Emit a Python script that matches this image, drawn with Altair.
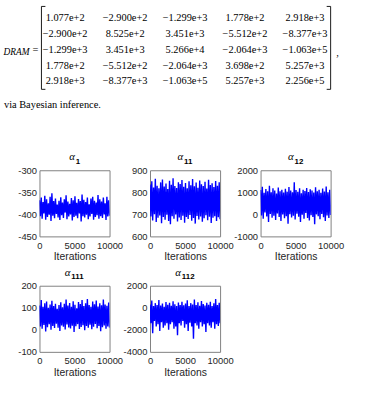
import altair as alt
import pandas as pd
import numpy as np

# ---------------- data ----------------
matrix_rows = [
    ["1.077e+2", "−2.900e+2", "−1.299e+3", "1.778e+2", "2.918e+3"],
    ["−2.900e+2", "8.525e+2", "3.451e+3", "−5.512e+2", "−8.377e+3"],
    ["−1.299e+3", "3.451e+3", "5.266e+4", "−2.064e+3", "−1.063e+5"],
    ["1.778e+2", "−5.512e+2", "−2.064e+3", "3.698e+2", "5.257e+3"],
    ["2.918e+3", "−8.377e+3", "−1.063e+5", "5.257e+3", "2.256e+5"],
]
matrix_label = "DRAM"
caption = "via Bayesian inference."

x_ticks = [0, 5000, 10000]
x_domain = [0, 10000]

# alpha_1
a1_sub = "1"
a1_domain = [-450, -300]
a1_ticks = [-450, -400, -350, -300]
a1_upper = [-368, -362, -372, -358, -366, -375, -360, -352, -370, -364, -378, -369, -361, -373, -366, -357, -371, -376, -363, -368,
            -359, -374, -365, -370, -355, -367, -372, -362, -377, -364, -360, -369, -373, -356, -366, -371, -362, -375, -360, -368]
a1_lower = [-404, -410, -398, -412, -406, -401, -415, -403, -409, -399, -407, -413, -402, -408, -396, -411, -405, -400, -414, -406,
            -403, -409, -398, -416, -404, -407, -401, -411, -405, -399, -412, -406, -402, -410, -404, -408, -400, -413, -405, -403]

# alpha_11
a11_sub = "11"
a11_domain = [600, 900]
a11_ticks = [600, 700, 800, 900]
a11_upper = [835, 850, 822, 862, 830, 818, 845, 858, 826, 840, 815, 852, 834, 864, 828, 820, 846, 838, 856, 825,
             842, 818, 850, 832, 860, 827, 844, 821, 853, 836, 829, 848, 817, 857, 833, 841, 824, 851, 830, 845]
a11_lower = [690, 672, 700, 665, 685, 695, 660, 688, 676, 698, 670, 655, 692, 680, 699, 668, 686, 674, 694, 662,
             688, 679, 697, 671, 684, 658, 693, 677, 690, 666, 682, 696, 673, 689, 661, 685, 692, 670, 687, 678]

# alpha_12
a12_sub = "12"
a12_domain = [-1000, 2000]
a12_ticks = [-1000, 0, 1000, 2000]
a12_upper = [1100, 1250, 980, 1150, 1050, 1300, 1000, 1180, 1080, 950, 1220, 1050, 1120, 990, 1160, 1030, 1240, 1080, 1000, 1450,
             1100, 1020, 1180, 960, 1120, 1060, 1200, 1010, 1140, 1080, 990, 1230, 1050, 1110, 980, 1170, 1040, 1260, 1000, 1120]
a12_lower = [-50, -200, 80, -100, -350, 20, -150, -60, -250, 40, -120, -300, 0, -180, -80, -420, 10, -140, -60, -230,
             30, -110, -350, -20, -200, 60, -160, -280, -40, -120, -450, 0, -90, -220, 20, -130, -300, -50, -170, -30]

# alpha_111
a111_sub = "111"
a111_domain = [-100, 200]
a111_ticks = [-100, 0, 100, 200]
a111_upper = [110, 135, 105, 120, 128, 100, 115, 132, 108, 118, 95, 112, 125, 102, 118, 138, 110, 122, 105, 130,
              114, 98, 126, 117, 135, 108, 120, 140, 112, 104, 128, 116, 133, 106, 121, 111, 137, 115, 109, 124]
a111_lower = [15, 5, 22, -8, 12, 25, 0, 18, 8, 28, 10, -5, 20, 14, 2, 24, 11, 6, 19, -10,
              16, 26, 4, 13, 21, -2, 17, 9, 23, 3, 14, 27, 7, 18, -6, 12, 20, 5, 15, 10]

# alpha_112
a112_sub = "112"
a112_domain = [-4000, 2000]
a112_ticks = [-4000, -2000, 0, 2000]
a112_upper = [300, 650, 150, 420, 250, 700, 200, 380, 100, 520, 280, 450, 180, 600, 320, 150, 480, 260, 550, 220,
              380, 680, 160, 420, 300, 760, 240, 500, 180, 620, 350, 200, 460, 280, 540, 150, 400, 800, 260, 450]
a112_lower = [-1400, -2300, -1200, -1700, -1500, -2100, -1300, -1800, -1600, -1400, -2000, -1500, -1300, -1900, -1700, -2500, -1400, -1600, -1200, -1800,
              -1500, -2100, -1350, -1700, -2800, -1400, -1600, -1900, -1300, -1700, -1500, -2200, -1400, -1600, -1800, -1300, -1900, -1500, -1650, -1400]

# ---------------- styling ----------------
SERIF = "Liberation Serif"
SANS = "Liberation Sans"
PW, PH = 71, 67
dummy = pd.DataFrame({"a": [0]})


def rule(x1, x2, y1, y2):
    return alt.Chart(dummy).mark_rule(color="black", strokeWidth=0.9).encode(
        x=alt.value(x1), x2=alt.value(x2), y=alt.value(y1), y2=alt.value(y2))


def label(txt, x, y, **kw):
    return alt.Chart(dummy).mark_text(text=txt, **kw).encode(x=alt.value(x), y=alt.value(y))


cells = pd.DataFrame([{"row": r, "col": c, "txt": matrix_rows[r][c]}
                      for r in range(len(matrix_rows)) for c in range(len(matrix_rows[r]))])

cell_text = alt.Chart(cells).mark_text(font=SERIF, fontSize=10.5, color="black",
                                       align="center", baseline="middle").encode(
    x=alt.X("col:Q", scale=alt.Scale(domain=[0, 4], range=[62, 305]), axis=None),
    y=alt.Y("row:Q", scale=alt.Scale(domain=[0, 4], range=[15, 79]), axis=None),
    text="txt:N")

header = alt.layer(
    cell_text,
    rule(38, 38, 3, 87), rule(38, 42, 3, 3), rule(38, 42, 87, 87),
    rule(331, 331, 3, 87), rule(327, 331, 3, 3), rule(327, 331, 87, 87),
    label(matrix_label, 26, 49, font=SERIF, fontSize=9.5, fontStyle="italic", align="right", baseline="middle", color="black"),
    label("=", 32, 47, font=SERIF, fontSize=10.5, align="center", baseline="middle", color="black"),
    label(",", 338, 50, font=SERIF, fontSize=10.5, align="center", baseline="middle", color="black"),
    label(caption, 0, 103, font=SERIF, fontSize=10.5, align="left", baseline="middle", color="black"),
).properties(width=378, height=120)


def panel(sub, dom, ticks, upper, lower):
    n = len(upper)
    its = np.linspace(x_domain[0], x_domain[1], 2 * n)
    vals = [v for pair in zip(upper, lower) for v in pair]
    df = pd.DataFrame({"it": its, "v": vals})
    line = alt.Chart(df).mark_line(color="#0000ff", strokeWidth=1.4, clip=True).encode(
        x=alt.X("it:Q", scale=alt.Scale(domain=x_domain, nice=False, zero=False),
                axis=alt.Axis(values=x_ticks, title="Iterations", labelExpr="toString(datum.value)")),
        y=alt.Y("v:Q", scale=alt.Scale(domain=dom, nice=False, zero=False),
                axis=alt.Axis(values=ticks, title=None, labelExpr="toString(datum.value)")),
        order="it:Q")
    a_w = 6.3
    s_w = 4.45 * len(sub)
    start = PW / 2 - (a_w + s_w) / 2
    alpha = label("α", start, -13, font=SERIF, fontSize=11, fontStyle="italic", align="left",
                  baseline="middle", color="black")
    subt = label(sub, start + a_w + 0.3, -8.5, font=SANS, fontSize=8, fontWeight="bold", align="left",
                 baseline="middle", color="black")
    return alt.layer(line, alpha, subt).properties(
        width=PW, height=PH, view=alt.ViewBackground(stroke="#808080", strokeWidth=1))


p1 = panel(a1_sub, a1_domain, a1_ticks, a1_upper, a1_lower)
p2 = panel(a11_sub, a11_domain, a11_ticks, a11_upper, a11_lower)
p3 = panel(a12_sub, a12_domain, a12_ticks, a12_upper, a12_lower)
p4 = panel(a111_sub, a111_domain, a111_ticks, a111_upper, a111_lower)
p5 = panel(a112_sub, a112_domain, a112_ticks, a112_upper, a112_lower)

body = alt.concat(p1, p2, p3, p4, p5, columns=3,
                  spacing=alt.RowColnumber(row=50, column=41), bounds="flush")
spacer = alt.Chart(dummy).mark_point(opacity=0).encode(x=alt.value(0), y=alt.value(0)).properties(width=1, height=10)
body_row = alt.hconcat(spacer, body, spacing=35, bounds="flush")

chart = alt.vconcat(header, body_row, spacing=49, bounds="flush").properties(
    padding=0, background="white"
).configure_view(stroke="transparent").configure_axis(
    grid=False, ticks=False, domain=False,
    labelFont=SANS, labelFontSize=9.5, labelColor="#262626",
    labelFlush=False, labelOverlap=False, labelBound=False,
    titleFont=SANS, titleFontSize=10.5, titleFontWeight="normal", titleColor="#262626", titlePadding=2,
).configure_axisX(labelPadding=4).configure_axisY(labelPadding=3)

chart.save("out.html", embed_options={"renderer": "svg", "actions": False})
